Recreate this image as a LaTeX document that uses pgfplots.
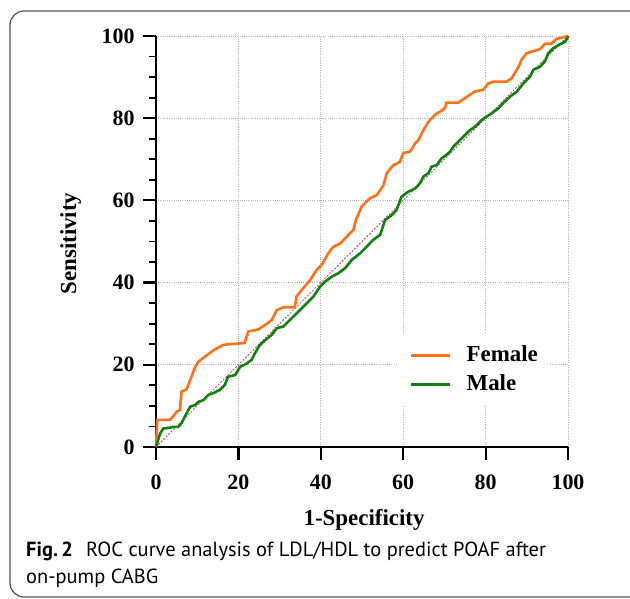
\documentclass[border=0pt]{standalone}
\usepackage{pgfplots}
\pgfplotsset{compat=1.18}
\usepackage{fontspec}
\setmainfont{Liberation Serif}
\newfontfamily\capfont{PT Sans}

\definecolor{femaleorange}{RGB}{255,112,25}
\definecolor{malegreen}{RGB}{16,128,16}
\definecolor{diagred}{RGB}{170,70,90}

\begin{document}
\begin{tikzpicture}[x=1bp,y=1bp]
\useasboundingbox (0,0) rectangle (630,599);
\draw[gray!70!black, line width=1.3bp, rounded corners=14bp] (10,2) rectangle (660,588);
\begin{axis}[
  at={(156bp,152bp)}, anchor=south west,
  scale only axis, width=412bp, height=411bp,
  xmin=0, xmax=100, ymin=0, ymax=100,
  axis lines=left,
  axis line style={-, line width=2.4bp},
  clip=false,
  xtick={0,20,...,100}, ytick={0,20,...,100},
  minor y tick num=3,
  tick align=outside,
  major tick length=13bp, minor tick length=7bp,
  major tick style={black, line width=2.2bp},
  minor tick style={black, line width=1.8bp},
  grid=major,
  major grid style={gray!60, line width=0.9bp, dash pattern=on 1bp off 1.2bp},
  /pgf/number format/assume math mode=true,
  ticklabel style={font=\bfseries\fontsize{22}{22}\selectfont},
  xticklabel style={yshift=-11bp},
  yticklabel style={xshift=-5bp},
  xlabel={1-Specificity}, ylabel={Sensitivity},
  label style={font=\bfseries\fontsize{23}{23}\selectfont},
  xlabel style={at={(axis description cs:0.505,-0.192)}, anchor=base},
  ylabel style={at={(axis description cs:-0.194,0.495)}, anchor=base},
  legend style={at={(0.587,0.277)}, anchor=north west, fill=white, draw=none,
    font=\bfseries\fontsize{23}{23}\selectfont,
    inner xsep=12bp, inner ysep=11bp, row sep=7bp, column sep=15bp,
    nodes={inner sep=0pt, text height=17bp, text depth=5bp}},
  legend cell align=left,
  legend image code/.code={\draw[#1] (0bp,0bp) -- (39bp,0bp);},
]
\addplot[diagred, line width=0.8bp, dash pattern=on 2bp off 1.5bp, forget plot]
  coordinates {(0,0) (100,100)};
\addplot[femaleorange, line width=2.6bp] coordinates {
(0,0) (0.3,6.6) (3.4,6.6) (4.2,7.5) (5,8.6) (5.8,9.0) (6.2,13.5) (7.4,14)
(8.3,16.3) (9.5,19.5) (10.3,20.8) (11.9,22) (13.5,23.2) (14.7,24) (16.3,24.8)
(17.5,25.0) (20.4,25.2) (21.5,25.3) (22.4,28.1) (24.8,28.6) (26.5,29.7)
(28.1,30.9) (29.3,33.3) (30.9,34) (33.7,34) (34.1,36.6) (35.7,38.6) (37.4,40.6)
(39,43.1) (40.2,44.3) (41.8,47.1) (43,48.7) (44.7,49.5) (46.7,51.6) (47.9,52.8)
(48.5,55.2) (49.9,58.5) (51.9,60.5) (53.6,61.3) (55.2,63.7) (56,66.6)
(57.6,68.6) (59.2,69.4) (60,71.5) (61.7,71.9) (62.9,73.9) (63.7,74.7)
(64.9,77.1) (66.1,79.1) (67.7,80.8) (68.9,81.6) (70.1,82.4) (70.5,83.8)
(73.4,83.8) (75,84.9) (77.4,86.5) (79.4,86.9) (80.7,88.5) (81.9,88.9)
(85.1,88.9) (86.3,89.7) (87.1,91) (88,92.5) (88.7,94.2) (89.9,95.8)
(91.2,96.2) (93.2,96.8) (94.4,98.1) (96,98.1) (97.2,99.3) (99.3,99.8) (100,100)
};
\addlegendentry{Female}
\addplot[malegreen, line width=2.6bp] coordinates {
(0,0) (1,3.3) (1.8,4.5) (3.4,4.7) (4.2,4.9) (5.4,4.9) (6.2,5.8) (7,7.4)
(8.3,9.8) (9.5,10.2) (10.3,11) (11.5,11.4) (12.7,12.7) (13.9,13.1) (15.5,13.9)
(16.7,15.1) (17.5,17.1) (19.2,17.5) (20.4,19.5) (22,20.3) (23.2,21.2) (24,22.8)
(25.2,24.8) (26.5,26) (28.1,27.3) (29.3,28.9) (30.9,29.3) (32.1,30.5)
(33.3,31.7) (34.5,32.9) (35.7,34.1) (37,35.4) (38.2,36.6) (39.8,39) (41,40.2)
(42.6,41.4) (44.3,42.3) (45.9,43.5) (47.5,45.5) (49.5,47.1) (51.1,48.7)
(52.7,50.4) (54.4,51.6) (55.2,54) (55.6,55.2) (57.2,56.4) (58.4,57.7)
(59.6,60.9) (61.2,62.1) (62.9,62.9) (64.1,64.2) (64.9,65.8) (66.1,66.6)
(66.9,68.2) (68.1,68.6) (69.3,70.2) (70.5,71.1) (71.4,71.9) (72.2,73.1)
(73.4,74.3) (74.6,75.5) (76.2,77.1) (77.4,77.9) (79.1,79.6) (80.3,80.4)
(81.5,81.2) (83.1,82.4) (84.3,83.7) (86,85.3) (87.6,86.5) (89.2,88.5)
(90.8,90.1) (91.6,91.8) (93.2,92.5) (94.4,93.8) (95.2,95.8) (96.4,97)
(97.7,97.8) (99.3,98.6) (100,99.8) (100,100)
};
\addlegendentry{Male}
\end{axis}
\node[anchor=base west, inner sep=0pt, font=\capfont\bfseries\fontsize{20.5}{20.5}\selectfont] at (26,42) {Fig.\,2};
\node[anchor=base west, inner sep=0pt, font=\capfont\fontsize{20.5}{20.5}\selectfont] at (86,42) {ROC curve analysis of LDL/HDL to predict POAF after};
\node[anchor=base west, inner sep=0pt, font=\capfont\fontsize{20.5}{20.5}\selectfont] at (26,15) {on-pump CABG};
\end{tikzpicture}
\end{document}
